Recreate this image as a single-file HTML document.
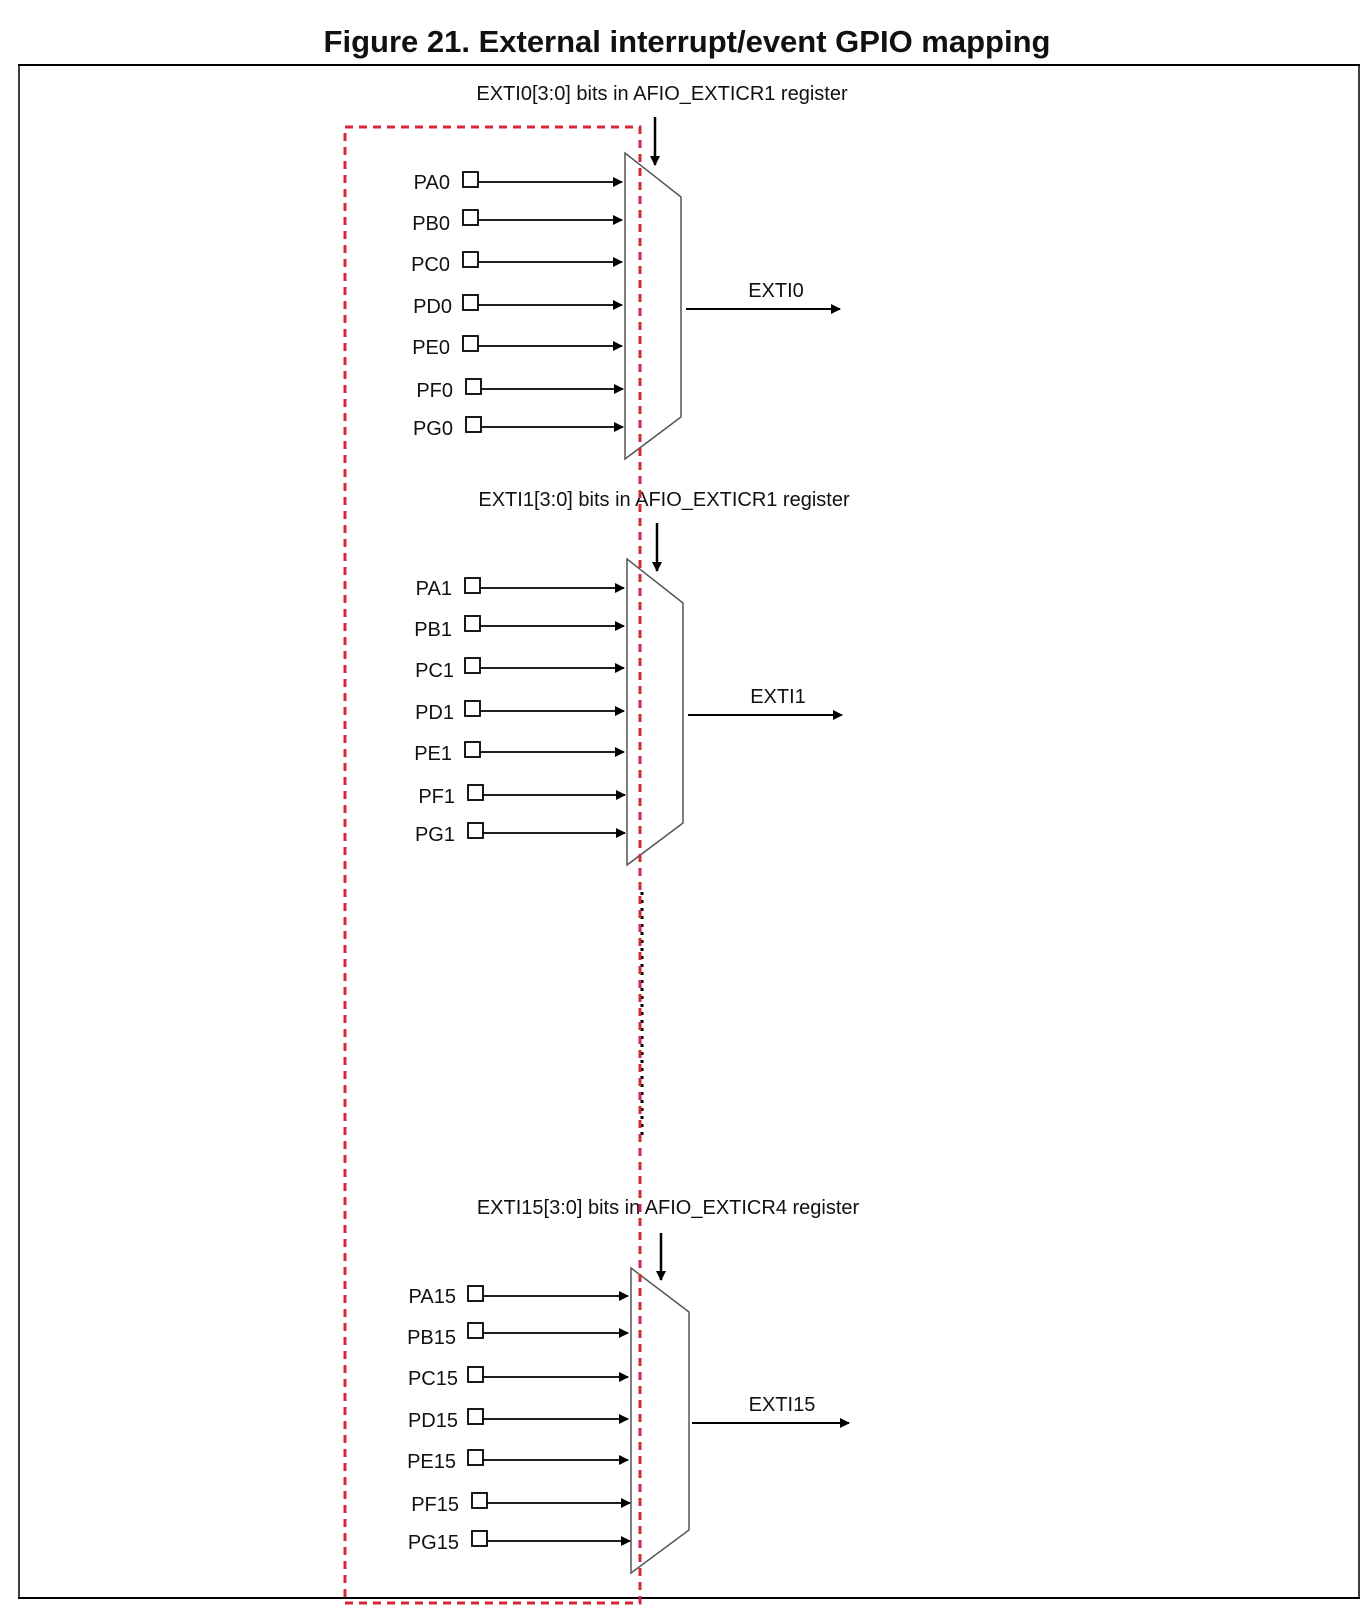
<!DOCTYPE html>
<html><head><meta charset="utf-8"><style>
html,body{margin:0;padding:0;background:#fff;}
svg{display:block;}
text{font-family:"Liberation Sans",sans-serif;fill:#111;}
</style></head><body>
<svg width="1370" height="1610" viewBox="0 0 1370 1610" xmlns="http://www.w3.org/2000/svg">
<defs>
<marker id="ah" markerWidth="10" markerHeight="10" refX="9" refY="5" orient="auto" markerUnits="userSpaceOnUse">
<path d="M0,0 L10,5 L0,10 z" fill="#000"/>
</marker>
<g id="rows" fill="none" stroke="#000" stroke-width="1.6">
</g>
</defs>
<text x="687" y="52" text-anchor="middle" font-size="31" font-weight="bold">Figure 21. External interrupt/event GPIO mapping</text>
<line x1="18" y1="65" x2="1360" y2="65" stroke="#000" stroke-width="2"/>
<line x1="19" y1="65" x2="19" y2="1598" stroke="#000" stroke-width="1.5"/>
<line x1="1359" y1="65" x2="1359" y2="1598" stroke="#000" stroke-width="1.5"/>
<line x1="18" y1="1598" x2="1360" y2="1598" stroke="#000" stroke-width="2"/>

<!-- Group 1 -->
<g transform="translate(0,0)">
<text x="662" y="100" text-anchor="middle" font-size="20">EXTI0[3:0] bits in AFIO_EXTICR1 register</text>
<line x1="655" y1="117" x2="655" y2="165" stroke="#000" stroke-width="2.5" marker-end="url(#ah)"/>
<polygon points="625,153 681,197 681,417 625,459" fill="none" stroke="#555" stroke-width="1.5"/>
<line x1="686" y1="309" x2="840" y2="309" stroke="#000" stroke-width="2" marker-end="url(#ah)"/>
<text x="776" y="297" text-anchor="middle" font-size="20">EXTI0</text>
<g font-size="20" text-anchor="end">
<text x="450" y="189">PA0</text><text x="450" y="230">PB0</text><text x="450" y="271">PC0</text><text x="452" y="313">PD0</text><text x="450" y="354">PE0</text><text x="453" y="397">PF0</text><text x="453" y="435">PG0</text>
</g>
<g fill="none" stroke="#000" stroke-width="1.8">
<rect x="463" y="172" width="15" height="15"/><line x1="478" y1="182" x2="622" y2="182" marker-end="url(#ah)"/>
<rect x="463" y="210" width="15" height="15"/><line x1="478" y1="220" x2="622" y2="220" marker-end="url(#ah)"/>
<rect x="463" y="252" width="15" height="15"/><line x1="478" y1="262" x2="622" y2="262" marker-end="url(#ah)"/>
<rect x="463" y="295" width="15" height="15"/><line x1="478" y1="305" x2="622" y2="305" marker-end="url(#ah)"/>
<rect x="463" y="336" width="15" height="15"/><line x1="478" y1="346" x2="622" y2="346" marker-end="url(#ah)"/>
<rect x="466" y="379" width="15" height="15"/><line x1="481" y1="389" x2="623" y2="389" marker-end="url(#ah)"/>
<rect x="466" y="417" width="15" height="15"/><line x1="481" y1="427" x2="623" y2="427" marker-end="url(#ah)"/>
</g>
</g>

<!-- Group 2 -->
<g transform="translate(2,406)">
<text x="662" y="100" text-anchor="middle" font-size="20">EXTI1[3:0] bits in AFIO_EXTICR1 register</text>
<line x1="655" y1="117" x2="655" y2="165" stroke="#000" stroke-width="2.5" marker-end="url(#ah)"/>
<polygon points="625,153 681,197 681,417 625,459" fill="none" stroke="#555" stroke-width="1.5"/>
<line x1="686" y1="309" x2="840" y2="309" stroke="#000" stroke-width="2" marker-end="url(#ah)"/>
<text x="776" y="297" text-anchor="middle" font-size="20">EXTI1</text>
<g font-size="20" text-anchor="end">
<text x="450" y="189">PA1</text><text x="450" y="230">PB1</text><text x="452" y="271">PC1</text><text x="452" y="313">PD1</text><text x="450" y="354">PE1</text><text x="453" y="397">PF1</text><text x="453" y="435">PG1</text>
</g>
<g fill="none" stroke="#000" stroke-width="1.8">
<rect x="463" y="172" width="15" height="15"/><line x1="478" y1="182" x2="622" y2="182" marker-end="url(#ah)"/>
<rect x="463" y="210" width="15" height="15"/><line x1="478" y1="220" x2="622" y2="220" marker-end="url(#ah)"/>
<rect x="463" y="252" width="15" height="15"/><line x1="478" y1="262" x2="622" y2="262" marker-end="url(#ah)"/>
<rect x="463" y="295" width="15" height="15"/><line x1="478" y1="305" x2="622" y2="305" marker-end="url(#ah)"/>
<rect x="463" y="336" width="15" height="15"/><line x1="478" y1="346" x2="622" y2="346" marker-end="url(#ah)"/>
<rect x="466" y="379" width="15" height="15"/><line x1="481" y1="389" x2="623" y2="389" marker-end="url(#ah)"/>
<rect x="466" y="417" width="15" height="15"/><line x1="481" y1="427" x2="623" y2="427" marker-end="url(#ah)"/>
</g>
</g>

<!-- Group 3 -->
<g transform="translate(6,1114)">
<text x="662" y="100" text-anchor="middle" font-size="20">EXTI15[3:0] bits in AFIO_EXTICR4 register</text>
<line x1="655" y1="119" x2="655" y2="166" stroke="#000" stroke-width="2.5" marker-end="url(#ah)"/>
<polygon points="625,154 683,198 683,416 625,459" fill="none" stroke="#555" stroke-width="1.5"/>
<line x1="686" y1="309" x2="843" y2="309" stroke="#000" stroke-width="2" marker-end="url(#ah)"/>
<text x="776" y="297" text-anchor="middle" font-size="20">EXTI15</text>
<g font-size="20" text-anchor="end">
<text x="450" y="189">PA15</text><text x="450" y="230">PB15</text><text x="452" y="271">PC15</text><text x="452" y="313">PD15</text><text x="450" y="354">PE15</text><text x="453" y="397">PF15</text><text x="453" y="435">PG15</text>
</g>
<g fill="none" stroke="#000" stroke-width="1.8">
<rect x="462" y="172" width="15" height="15"/><line x1="477" y1="182" x2="622" y2="182" marker-end="url(#ah)"/>
<rect x="462" y="209" width="15" height="15"/><line x1="477" y1="219" x2="622" y2="219" marker-end="url(#ah)"/>
<rect x="462" y="253" width="15" height="15"/><line x1="477" y1="263" x2="622" y2="263" marker-end="url(#ah)"/>
<rect x="462" y="295" width="15" height="15"/><line x1="477" y1="305" x2="622" y2="305" marker-end="url(#ah)"/>
<rect x="462" y="336" width="15" height="15"/><line x1="477" y1="346" x2="622" y2="346" marker-end="url(#ah)"/>
<rect x="466" y="379" width="15" height="15"/><line x1="481" y1="389" x2="624" y2="389" marker-end="url(#ah)"/>
<rect x="466" y="417" width="15" height="15"/><line x1="481" y1="427" x2="624" y2="427" marker-end="url(#ah)"/>
</g>
</g>

<!-- dotted continuation -->
<line x1="642" y1="892" x2="642" y2="1140" stroke="#000" stroke-width="3" stroke-dasharray="3,5"/>

<!-- red dashed box -->
<rect x="345" y="127" width="295" height="1476" fill="none" stroke="#d8253a" stroke-width="3" stroke-dasharray="8,6"/>
</svg>
</body></html>
